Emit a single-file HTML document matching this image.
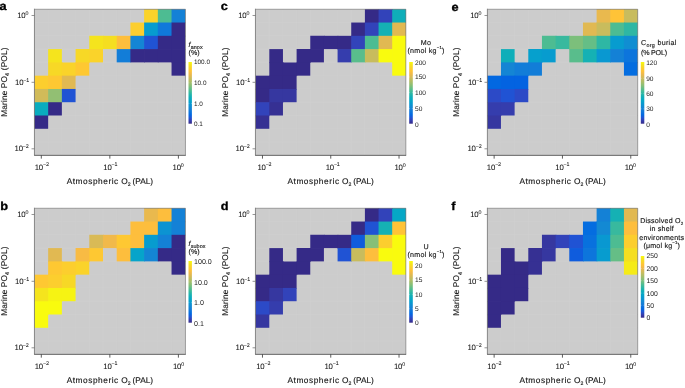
<!DOCTYPE html>
<html lang="en"><head><meta charset="utf-8"><title>Figure</title>
<style>html,body{margin:0;padding:0;background:#fff;}body{width:685px;height:388px;overflow:hidden;}svg{display:block;filter:blur(0.3px);}text{font-family:'Liberation Sans', Arial, Helvetica, sans-serif;fill:#151515;stroke:#151515;stroke-width:0.14px;text-rendering:geometricPrecision;}</style></head><body>
<svg width="685" height="388" viewBox="0 0 685 388">
<defs><linearGradient id="par" x1="0" y1="1" x2="0" y2="0">
<stop offset="0.0000" stop-color="#352a87"/>
<stop offset="0.0476" stop-color="#353dad"/>
<stop offset="0.0952" stop-color="#2053d4"/>
<stop offset="0.1429" stop-color="#0268e1"/>
<stop offset="0.1905" stop-color="#0d75dc"/>
<stop offset="0.2381" stop-color="#1481d6"/>
<stop offset="0.2857" stop-color="#108ed2"/>
<stop offset="0.3333" stop-color="#079ccf"/>
<stop offset="0.3810" stop-color="#06a7c6"/>
<stop offset="0.4286" stop-color="#0faeb9"/>
<stop offset="0.4762" stop-color="#25b5a9"/>
<stop offset="0.5238" stop-color="#42bb98"/>
<stop offset="0.5714" stop-color="#65be86"/>
<stop offset="0.6190" stop-color="#87bf77"/>
<stop offset="0.6667" stop-color="#a5be6b"/>
<stop offset="0.7143" stop-color="#c0bc60"/>
<stop offset="0.7619" stop-color="#d9ba56"/>
<stop offset="0.8095" stop-color="#f1b94a"/>
<stop offset="0.8571" stop-color="#ffc337"/>
<stop offset="0.9048" stop-color="#fad32a"/>
<stop offset="0.9524" stop-color="#f5e41d"/>
<stop offset="1.0000" stop-color="#f9fb0e"/>
</linearGradient></defs>
<rect x="0" y="0" width="685" height="388" fill="#ffffff"/>
<g id="panel-a">
<rect x="34.45" y="9.25" width="151.00" height="146.10" fill="#cccccc"/>
<path d="M48.16 9.25V155.35M34.45 22.53H185.45M61.87 9.25V155.35M34.45 35.81H185.45M75.58 9.25V155.35M34.45 49.10H185.45M89.29 9.25V155.35M34.45 62.38H185.45M103.00 9.25V155.35M34.45 75.66H185.45M116.70 9.25V155.35M34.45 88.94H185.45M130.41 9.25V155.35M34.45 102.22H185.45M144.12 9.25V155.35M34.45 115.50H185.45M157.83 9.25V155.35M34.45 128.79H185.45M171.54 9.25V155.35M34.45 142.07H185.45" fill="none" stroke="#d1d1d1" stroke-width="0.5"/>
<path d="M144.12 9.25H158.53V23.23H144.12Z" fill="#fad32a"/>
<path d="M157.83 9.25H172.24V23.23H157.83Z" fill="#4dbc92"/>
<path d="M171.54 9.25H185.25V23.23H171.54Z" fill="#1481d6"/>
<path d="M130.41 22.53H144.82V36.51H130.41Z" fill="#fcce2e"/>
<path d="M144.12 22.53H158.53V36.51H144.12Z" fill="#079ccf"/>
<path d="M157.83 22.53H172.24V36.51H157.83Z" fill="#1079da"/>
<path d="M171.54 22.53H185.25V36.51H171.54Z" fill="#352a87"/>
<path d="M89.29 35.81H103.70V49.10H103.00V49.80H89.29Z" fill="#f5e41d"/>
<path d="M103.00 35.81H117.40V49.10H103.00Z" fill="#f5de21"/>
<path d="M116.70 35.81H131.11V49.80H116.70Z" fill="#fdbe3d"/>
<path d="M130.41 35.81H144.82V49.80H130.41Z" fill="#1485d4"/>
<path d="M144.12 35.81H158.53V49.80H144.12Z" fill="#2053d4"/>
<path d="M157.83 35.81H172.24V49.80H157.83Z" fill="#352a87"/>
<path d="M171.54 35.81H185.25V49.80H171.54Z" fill="#352a87"/>
<path d="M48.16 49.10H61.87V63.08H48.16Z" fill="#f5e41d"/>
<path d="M75.58 49.10H89.99V62.38H89.29V63.08H75.58Z" fill="#f7d826"/>
<path d="M89.29 49.10H103.00V62.38H89.29Z" fill="#fad32a"/>
<path d="M116.70 49.10H131.11V62.38H116.70Z" fill="#127dd8"/>
<path d="M130.41 49.10H144.82V62.38H130.41Z" fill="#352a87"/>
<path d="M144.12 49.10H158.53V62.38H144.12Z" fill="#352a87"/>
<path d="M157.83 49.10H172.24V62.38H157.83Z" fill="#352a87"/>
<path d="M171.54 49.10H185.25V63.08H171.54Z" fill="#352a87"/>
<path d="M48.16 62.38H62.57V76.36H48.16Z" fill="#f7d826"/>
<path d="M61.87 62.38H76.28V75.66H75.58V76.36H61.87Z" fill="#fad32a"/>
<path d="M75.58 62.38H89.29V75.66H75.58Z" fill="#fec832"/>
<path d="M171.54 62.38H185.25V75.66H171.54Z" fill="#352a87"/>
<path d="M34.45 75.66H48.86V89.64H34.45Z" fill="#fcce2e"/>
<path d="M48.16 75.66H62.57V89.64H48.16Z" fill="#fec832"/>
<path d="M61.87 75.66H75.58V89.64H61.87Z" fill="#e1b952"/>
<path d="M34.45 88.94H48.86V102.92H34.45Z" fill="#d1bb59"/>
<path d="M48.16 88.94H62.57V102.22H61.87V102.92H48.16Z" fill="#92bf73"/>
<path d="M61.87 88.94H75.58V102.22H61.87Z" fill="#2053d4"/>
<path d="M34.45 102.22H48.86V115.50H48.16V116.20H34.45Z" fill="#0aacbe"/>
<path d="M48.16 102.22H61.87V115.50H48.16Z" fill="#352a87"/>
<path d="M34.45 115.50H48.16V128.79H34.45Z" fill="#352a87"/>
<path d="M34.45 9.25H185.45V155.35" fill="none" stroke="#606060" stroke-width="0.55"/>
<path d="M34.45 155.35V8.75" fill="none" stroke="#707070" stroke-width="0.8"/>
<path d="M34.15 155.35H185.75" fill="none" stroke="#4d4d4d" stroke-width="0.85"/>
<line x1="41.30" y1="155.35" x2="41.30" y2="158.65" stroke="#333" stroke-width="0.8"/>
<text x="41.70" y="169.65" font-size="7.8" letter-spacing="-0.2" style="stroke-width:0.05px" text-anchor="middle">10<tspan font-size="5.30" dy="-3.5">−2</tspan><tspan dy="3.5"></tspan></text>
<line x1="109.85" y1="155.35" x2="109.85" y2="158.65" stroke="#333" stroke-width="0.8"/>
<text x="110.25" y="169.65" font-size="7.8" letter-spacing="-0.2" style="stroke-width:0.05px" text-anchor="middle">10<tspan font-size="5.30" dy="-3.5">−1</tspan><tspan dy="3.5"></tspan></text>
<line x1="178.40" y1="155.35" x2="178.40" y2="158.65" stroke="#333" stroke-width="0.8"/>
<text x="178.10" y="169.65" font-size="7.8" letter-spacing="-0.2" style="stroke-width:0.05px" text-anchor="middle">10<tspan font-size="5.30" dy="-2.7">0</tspan><tspan dy="2.7"></tspan></text>
<line x1="31.55" y1="15.49" x2="34.45" y2="15.49" stroke="#666" stroke-width="0.7"/>
<text x="28.25" y="17.89" font-size="7.8" letter-spacing="-0.2" style="stroke-width:0.05px" text-anchor="end">10<tspan font-size="5.30" dy="-2.7">0</tspan><tspan dy="2.7"></tspan></text>
<line x1="31.55" y1="82.30" x2="34.45" y2="82.30" stroke="#666" stroke-width="0.7"/>
<text x="28.95" y="85.10" font-size="7.8" letter-spacing="-0.2" style="stroke-width:0.05px" text-anchor="end">10<tspan font-size="5.30" dy="-3.5">−1</tspan><tspan dy="3.5"></tspan></text>
<line x1="31.55" y1="148.81" x2="34.45" y2="148.81" stroke="#666" stroke-width="0.7"/>
<text x="28.45" y="151.11" font-size="7.8" letter-spacing="-0.2" style="stroke-width:0.05px" text-anchor="end">10<tspan font-size="5.30" dy="-3.5">−2</tspan><tspan dy="3.5"></tspan></text>
<text x="66.65" y="183.95" font-size="8.3" text-anchor="start"><tspan letter-spacing="0.55">Atmospheric</tspan><tspan letter-spacing="0.1"> O</tspan><tspan font-size="5.15" dy="2.3">2</tspan><tspan dy="-2.3"><tspan letter-spacing="0" dx="-0.5"> (PAL)</tspan></tspan></text>
<text transform="translate(7.10,82.10) rotate(-90)" font-size="8.3" letter-spacing="0.14" text-anchor="middle">Marine PO<tspan font-size="5.48" dy="2.3">4</tspan><tspan dy="-2.3"> (POL)</tspan></text>
<text transform="translate(-0.6,10.3) scale(1.1,1)" font-size="11.6" font-weight="bold" style="fill:#000;stroke:#000;stroke-width:0.3px">a</text>
<rect x="188.5" y="62.0" width="3.4" height="61.70" fill="url(#par)"/>
<path d="M188.5 82.8h0.9M191.9 82.8h-0.9" stroke="#ffffff" stroke-opacity="0.55" stroke-width="0.5" fill="none"/>
<path d="M188.5 103.5h0.9M191.9 103.5h-0.9" stroke="#ffffff" stroke-opacity="0.55" stroke-width="0.5" fill="none"/>
<text x="194.0" y="64.37" font-size="6.4" style="stroke:none;fill:#222">100.0</text>
<text x="194.0" y="85.07" font-size="6.4" style="stroke:none;fill:#222">10.0</text>
<text x="194.0" y="105.77" font-size="6.4" style="stroke:none;fill:#222">1.0</text>
<text x="194.0" y="126.17" font-size="6.4" style="stroke:none;fill:#222">0.1</text>
<text x="188.6" y="46.9" font-size="7.1" letter-spacing="0.1" text-anchor="start"><tspan font-style="italic">f</tspan><tspan font-size="5.40" dy="1.8">anox</tspan><tspan dy="-1.8"></tspan></text>
<text x="188.6" y="55.0" font-size="7.1" letter-spacing="0" text-anchor="start">(%)</text>
</g>
<g id="panel-b">
<rect x="34.45" y="208.25" width="151.00" height="146.10" fill="#cccccc"/>
<path d="M48.16 208.25V354.35M34.45 221.53H185.45M61.87 208.25V354.35M34.45 234.81H185.45M75.58 208.25V354.35M34.45 248.10H185.45M89.29 208.25V354.35M34.45 261.38H185.45M103.00 208.25V354.35M34.45 274.66H185.45M116.70 208.25V354.35M34.45 287.94H185.45M130.41 208.25V354.35M34.45 301.22H185.45M144.12 208.25V354.35M34.45 314.50H185.45M157.83 208.25V354.35M34.45 327.79H185.45M171.54 208.25V354.35M34.45 341.07H185.45" fill="none" stroke="#d1d1d1" stroke-width="0.5"/>
<path d="M144.12 208.25H158.53V222.23H144.12Z" fill="#e9b94e"/>
<path d="M157.83 208.25H172.24V222.23H157.83Z" fill="#fdbe3d"/>
<path d="M171.54 208.25H185.25V222.23H171.54Z" fill="#1481d6"/>
<path d="M130.41 221.53H144.82V235.51H130.41Z" fill="#fdbe3d"/>
<path d="M144.12 221.53H158.53V235.51H144.12Z" fill="#fdbe3d"/>
<path d="M157.83 221.53H172.24V235.51H157.83Z" fill="#0c93d2"/>
<path d="M171.54 221.53H185.25V235.51H171.54Z" fill="#1481d6"/>
<path d="M89.29 234.81H103.70V248.10H103.00V248.80H89.29Z" fill="#d9ba56"/>
<path d="M103.00 234.81H117.40V248.10H103.00Z" fill="#f1b94a"/>
<path d="M116.70 234.81H131.11V248.80H116.70Z" fill="#fec832"/>
<path d="M130.41 234.81H144.82V248.80H130.41Z" fill="#fdbe3d"/>
<path d="M144.12 234.81H158.53V248.80H144.12Z" fill="#079ccf"/>
<path d="M157.83 234.81H172.24V248.80H157.83Z" fill="#1481d6"/>
<path d="M171.54 234.81H185.25V248.80H171.54Z" fill="#352a87"/>
<path d="M48.16 248.10H61.87V262.08H48.16Z" fill="#e1b952"/>
<path d="M75.58 248.10H89.99V261.38H89.29V262.08H75.58Z" fill="#f8bb44"/>
<path d="M89.29 248.10H103.00V261.38H89.29Z" fill="#fec832"/>
<path d="M116.70 248.10H131.11V261.38H116.70Z" fill="#fdbe3d"/>
<path d="M130.41 248.10H144.82V261.38H130.41Z" fill="#06a4ca"/>
<path d="M144.12 248.10H158.53V261.38H144.12Z" fill="#1485d4"/>
<path d="M157.83 248.10H172.24V261.38H157.83Z" fill="#352a87"/>
<path d="M171.54 248.10H185.25V262.08H171.54Z" fill="#352a87"/>
<path d="M48.16 261.38H62.57V275.36H48.16Z" fill="#fec832"/>
<path d="M61.87 261.38H76.28V274.66H75.58V275.36H61.87Z" fill="#fcce2e"/>
<path d="M75.58 261.38H89.29V274.66H75.58Z" fill="#fad32a"/>
<path d="M171.54 261.38H185.25V274.66H171.54Z" fill="#352a87"/>
<path d="M34.45 274.66H48.86V288.64H34.45Z" fill="#fec832"/>
<path d="M48.16 274.66H62.57V288.64H48.16Z" fill="#fcce2e"/>
<path d="M61.87 274.66H75.58V288.64H61.87Z" fill="#f7d826"/>
<path d="M34.45 287.94H48.86V301.92H34.45Z" fill="#f5e41d"/>
<path d="M48.16 287.94H62.57V301.22H61.87V301.92H48.16Z" fill="#f6f313"/>
<path d="M61.87 287.94H75.58V301.22H61.87Z" fill="#f6f313"/>
<path d="M34.45 301.22H48.86V314.50H48.16V315.20H34.45Z" fill="#f9fb0e"/>
<path d="M48.16 301.22H61.87V314.50H48.16Z" fill="#f9fb0e"/>
<path d="M34.45 314.50H48.16V327.79H34.45Z" fill="#f9fb0e"/>
<path d="M34.45 208.25H185.45V354.35" fill="none" stroke="#606060" stroke-width="0.55"/>
<path d="M34.45 354.35V207.75" fill="none" stroke="#707070" stroke-width="0.8"/>
<path d="M34.15 354.35H185.75" fill="none" stroke="#4d4d4d" stroke-width="0.85"/>
<line x1="41.30" y1="354.35" x2="41.30" y2="357.65" stroke="#333" stroke-width="0.8"/>
<text x="41.70" y="368.65" font-size="7.8" letter-spacing="-0.2" style="stroke-width:0.05px" text-anchor="middle">10<tspan font-size="5.30" dy="-3.5">−2</tspan><tspan dy="3.5"></tspan></text>
<line x1="109.85" y1="354.35" x2="109.85" y2="357.65" stroke="#333" stroke-width="0.8"/>
<text x="110.25" y="368.65" font-size="7.8" letter-spacing="-0.2" style="stroke-width:0.05px" text-anchor="middle">10<tspan font-size="5.30" dy="-3.5">−1</tspan><tspan dy="3.5"></tspan></text>
<line x1="178.40" y1="354.35" x2="178.40" y2="357.65" stroke="#333" stroke-width="0.8"/>
<text x="178.50" y="368.65" font-size="7.8" letter-spacing="-0.2" style="stroke-width:0.05px" text-anchor="middle">10<tspan font-size="5.30" dy="-2.7">0</tspan><tspan dy="2.7"></tspan></text>
<line x1="31.55" y1="214.49" x2="34.45" y2="214.49" stroke="#666" stroke-width="0.7"/>
<text x="28.25" y="216.89" font-size="7.8" letter-spacing="-0.2" style="stroke-width:0.05px" text-anchor="end">10<tspan font-size="5.30" dy="-2.7">0</tspan><tspan dy="2.7"></tspan></text>
<line x1="31.55" y1="281.30" x2="34.45" y2="281.30" stroke="#666" stroke-width="0.7"/>
<text x="28.95" y="284.10" font-size="7.8" letter-spacing="-0.2" style="stroke-width:0.05px" text-anchor="end">10<tspan font-size="5.30" dy="-3.5">−1</tspan><tspan dy="3.5"></tspan></text>
<line x1="31.55" y1="347.81" x2="34.45" y2="347.81" stroke="#666" stroke-width="0.7"/>
<text x="28.45" y="350.11" font-size="7.8" letter-spacing="-0.2" style="stroke-width:0.05px" text-anchor="end">10<tspan font-size="5.30" dy="-3.5">−2</tspan><tspan dy="3.5"></tspan></text>
<text x="66.65" y="382.95" font-size="8.3" text-anchor="start"><tspan letter-spacing="0.55">Atmospheric</tspan><tspan letter-spacing="0.1"> O</tspan><tspan font-size="5.15" dy="2.3">2</tspan><tspan dy="-2.3"><tspan letter-spacing="0" dx="-0.5"> (PAL)</tspan></tspan></text>
<text transform="translate(7.10,281.10) rotate(-90)" font-size="8.3" letter-spacing="0.14" text-anchor="middle">Marine PO<tspan font-size="5.48" dy="2.3">4</tspan><tspan dy="-2.3"> (POL)</tspan></text>
<text transform="translate(0.2,209.6) scale(1.1,1)" font-size="11.6" font-weight="bold" style="fill:#000;stroke:#000;stroke-width:0.3px">b</text>
<rect x="188.5" y="261.0" width="3.4" height="61.70" fill="url(#par)"/>
<path d="M188.5 282.0h0.9M191.9 282.0h-0.9" stroke="#ffffff" stroke-opacity="0.55" stroke-width="0.5" fill="none"/>
<path d="M188.5 302.6h0.9M191.9 302.6h-0.9" stroke="#ffffff" stroke-opacity="0.55" stroke-width="0.5" fill="none"/>
<text x="194.0" y="263.92" font-size="7.1" style="stroke:none;fill:#222">100.0</text>
<text x="194.0" y="284.52" font-size="7.1" style="stroke:none;fill:#222">10.0</text>
<text x="194.0" y="305.12" font-size="7.1" style="stroke:none;fill:#222">1.0</text>
<text x="194.0" y="325.62" font-size="7.1" style="stroke:none;fill:#222">0.1</text>
<text x="188.6" y="245.9" font-size="7.1" letter-spacing="0.1" text-anchor="start"><tspan font-style="italic">f</tspan><tspan font-size="5.40" dy="1.8">subox</tspan><tspan dy="-1.8"></tspan></text>
<text x="188.6" y="254.0" font-size="7.1" letter-spacing="0" text-anchor="start">(%)</text>
</g>
<g id="panel-c">
<rect x="255.45" y="9.25" width="150.40" height="146.10" fill="#cccccc"/>
<path d="M269.30 9.25V155.35M255.45 22.53H405.85M282.96 9.25V155.35M255.45 35.81H405.85M296.61 9.25V155.35M255.45 49.10H405.85M310.27 9.25V155.35M255.45 62.38H405.85M323.92 9.25V155.35M255.45 75.66H405.85M337.58 9.25V155.35M255.45 88.94H405.85M351.23 9.25V155.35M255.45 102.22H405.85M364.89 9.25V155.35M255.45 115.50H405.85M378.54 9.25V155.35M255.45 128.79H405.85M392.20 9.25V155.35M255.45 142.07H405.85" fill="none" stroke="#d1d1d1" stroke-width="0.5"/>
<path d="M364.89 9.25H379.24V23.23H364.89Z" fill="#352a87"/>
<path d="M378.54 9.25H392.90V23.23H378.54Z" fill="#3243ba"/>
<path d="M392.20 9.25H405.85V23.23H392.20Z" fill="#0faeb9"/>
<path d="M351.23 22.53H365.59V36.51H351.23Z" fill="#352a87"/>
<path d="M364.89 22.53H379.24V36.51H364.89Z" fill="#3243ba"/>
<path d="M378.54 22.53H392.90V36.51H378.54Z" fill="#15b1b4"/>
<path d="M392.20 22.53H405.85V36.51H392.20Z" fill="#e1b952"/>
<path d="M310.27 35.81H324.62V49.10H323.92V49.80H310.27Z" fill="#352a87"/>
<path d="M323.92 35.81H338.28V49.10H323.92Z" fill="#352a87"/>
<path d="M337.58 35.81H351.93V49.80H337.58Z" fill="#352a87"/>
<path d="M351.23 35.81H365.59V49.80H351.23Z" fill="#3243ba"/>
<path d="M364.89 35.81H379.24V49.80H364.89Z" fill="#4dbc92"/>
<path d="M378.54 35.81H392.90V49.80H378.54Z" fill="#e1b952"/>
<path d="M392.20 35.81H405.85V49.80H392.20Z" fill="#f9fb0e"/>
<path d="M269.30 49.10H282.96V63.08H269.30Z" fill="#352a87"/>
<path d="M296.61 49.10H310.97V62.38H310.27V63.08H296.61Z" fill="#352a87"/>
<path d="M310.27 49.10H323.92V62.38H310.27Z" fill="#352a87"/>
<path d="M337.58 49.10H351.93V62.38H337.58Z" fill="#353dad"/>
<path d="M351.23 49.10H365.59V62.38H351.23Z" fill="#59bd8c"/>
<path d="M364.89 49.10H379.24V62.38H364.89Z" fill="#c8bc5d"/>
<path d="M378.54 49.10H392.90V62.38H378.54Z" fill="#f9fb0e"/>
<path d="M392.20 49.10H405.85V63.08H392.20Z" fill="#f9fb0e"/>
<path d="M269.30 62.38H283.66V76.36H269.30Z" fill="#352a87"/>
<path d="M282.96 62.38H297.31V75.66H296.61V76.36H282.96Z" fill="#352a87"/>
<path d="M296.61 62.38H310.27V75.66H296.61Z" fill="#352a87"/>
<path d="M392.20 62.38H405.85V75.66H392.20Z" fill="#f9fb0e"/>
<path d="M255.65 75.66H270.00V89.64H255.65Z" fill="#352a87"/>
<path d="M269.30 75.66H283.66V89.64H269.30Z" fill="#352a87"/>
<path d="M282.96 75.66H296.61V89.64H282.96Z" fill="#352a87"/>
<path d="M255.65 88.94H270.00V102.92H255.65Z" fill="#352a87"/>
<path d="M269.30 88.94H283.66V102.22H282.96V102.92H269.30Z" fill="#3637a0"/>
<path d="M282.96 88.94H296.61V102.22H282.96Z" fill="#3637a0"/>
<path d="M255.65 102.22H270.00V115.50H269.30V116.20H255.65Z" fill="#3243ba"/>
<path d="M269.30 102.22H282.96V115.50H269.30Z" fill="#363093"/>
<path d="M255.65 115.50H269.30V128.79H255.65Z" fill="#363093"/>
<path d="M255.45 9.25H405.85V155.35" fill="none" stroke="#606060" stroke-width="0.55"/>
<path d="M255.45 155.35V8.75" fill="none" stroke="#707070" stroke-width="0.8"/>
<path d="M255.15 155.35H406.15" fill="none" stroke="#4d4d4d" stroke-width="0.85"/>
<line x1="262.48" y1="155.35" x2="262.48" y2="158.65" stroke="#333" stroke-width="0.8"/>
<text x="264.38" y="169.65" font-size="7.8" letter-spacing="-0.2" style="stroke-width:0.05px" text-anchor="middle">10<tspan font-size="5.30" dy="-3.5">−2</tspan><tspan dy="3.5"></tspan></text>
<line x1="330.75" y1="155.35" x2="330.75" y2="158.65" stroke="#333" stroke-width="0.8"/>
<text x="332.65" y="169.65" font-size="7.8" letter-spacing="-0.2" style="stroke-width:0.05px" text-anchor="middle">10<tspan font-size="5.30" dy="-3.5">−1</tspan><tspan dy="3.5"></tspan></text>
<line x1="399.02" y1="155.35" x2="399.02" y2="158.65" stroke="#333" stroke-width="0.8"/>
<text x="399.92" y="169.65" font-size="7.8" letter-spacing="-0.2" style="stroke-width:0.05px" text-anchor="middle">10<tspan font-size="5.30" dy="-2.7">0</tspan><tspan dy="2.7"></tspan></text>
<line x1="252.55" y1="15.49" x2="255.45" y2="15.49" stroke="#666" stroke-width="0.7"/>
<text x="249.25" y="17.89" font-size="7.8" letter-spacing="-0.2" style="stroke-width:0.05px" text-anchor="end">10<tspan font-size="5.30" dy="-2.7">0</tspan><tspan dy="2.7"></tspan></text>
<line x1="252.55" y1="82.30" x2="255.45" y2="82.30" stroke="#666" stroke-width="0.7"/>
<text x="249.95" y="85.10" font-size="7.8" letter-spacing="-0.2" style="stroke-width:0.05px" text-anchor="end">10<tspan font-size="5.30" dy="-3.5">−1</tspan><tspan dy="3.5"></tspan></text>
<line x1="252.55" y1="148.81" x2="255.45" y2="148.81" stroke="#666" stroke-width="0.7"/>
<text x="249.45" y="151.11" font-size="7.8" letter-spacing="-0.2" style="stroke-width:0.05px" text-anchor="end">10<tspan font-size="5.30" dy="-3.5">−2</tspan><tspan dy="3.5"></tspan></text>
<text x="287.45" y="183.95" font-size="8.3" text-anchor="start"><tspan letter-spacing="0.55">Atmospheric</tspan><tspan letter-spacing="0.1"> O</tspan><tspan font-size="5.15" dy="2.3">2</tspan><tspan dy="-2.3"><tspan letter-spacing="0" dx="-0.5"> (PAL)</tspan></tspan></text>
<text transform="translate(227.70,82.10) rotate(-90)" font-size="8.3" letter-spacing="0.14" text-anchor="middle">Marine PO<tspan font-size="5.48" dy="2.3">4</tspan><tspan dy="-2.3"> (POL)</tspan></text>
<text transform="translate(220.7,10.4) scale(1.1,1)" font-size="11.6" font-weight="bold" style="fill:#000;stroke:#000;stroke-width:0.3px">c</text>
<rect x="409.2" y="62.0" width="3.6" height="61.70" fill="url(#par)"/>
<path d="M409.2 77.0h0.9M412.8 77.0h-0.9" stroke="#ffffff" stroke-opacity="0.55" stroke-width="0.5" fill="none"/>
<path d="M409.2 92.6h0.9M412.8 92.6h-0.9" stroke="#ffffff" stroke-opacity="0.55" stroke-width="0.5" fill="none"/>
<path d="M409.2 108.5h0.9M412.8 108.5h-0.9" stroke="#ffffff" stroke-opacity="0.55" stroke-width="0.5" fill="none"/>
<text x="415.0" y="64.74" font-size="6.6" style="stroke:none;fill:#222">200</text>
<text x="415.0" y="79.34" font-size="6.6" style="stroke:none;fill:#222">150</text>
<text x="415.0" y="94.94" font-size="6.6" style="stroke:none;fill:#222">100</text>
<text x="415.0" y="110.84" font-size="6.6" style="stroke:none;fill:#222">50</text>
<text x="415.0" y="126.64" font-size="6.6" style="stroke:none;fill:#222">0</text>
<text x="426.0" y="44.9" font-size="7.1" letter-spacing="0.2" text-anchor="middle">Mo</text>
<text x="426.1" y="52.6" font-size="7.1" letter-spacing="0.25" text-anchor="middle">(nmol kg<tspan font-size="4.26" dy="-3.7">−1</tspan><tspan dy="3.7">)</tspan></text>
</g>
<g id="panel-d">
<rect x="255.45" y="208.25" width="150.40" height="146.10" fill="#cccccc"/>
<path d="M269.30 208.25V354.35M255.45 221.53H405.85M282.96 208.25V354.35M255.45 234.81H405.85M296.61 208.25V354.35M255.45 248.10H405.85M310.27 208.25V354.35M255.45 261.38H405.85M323.92 208.25V354.35M255.45 274.66H405.85M337.58 208.25V354.35M255.45 287.94H405.85M351.23 208.25V354.35M255.45 301.22H405.85M364.89 208.25V354.35M255.45 314.50H405.85M378.54 208.25V354.35M255.45 327.79H405.85M392.20 208.25V354.35M255.45 341.07H405.85" fill="none" stroke="#d1d1d1" stroke-width="0.5"/>
<path d="M364.89 208.25H379.24V222.23H364.89Z" fill="#352a87"/>
<path d="M378.54 208.25H392.90V222.23H378.54Z" fill="#3243ba"/>
<path d="M392.20 208.25H405.85V222.23H392.20Z" fill="#06a7c6"/>
<path d="M351.23 221.53H365.59V235.51H351.23Z" fill="#352a87"/>
<path d="M364.89 221.53H379.24V235.51H364.89Z" fill="#2053d4"/>
<path d="M378.54 221.53H392.90V235.51H378.54Z" fill="#15b1b4"/>
<path d="M392.20 221.53H405.85V235.51H392.20Z" fill="#ffc337"/>
<path d="M310.27 234.81H324.62V248.10H323.92V248.80H310.27Z" fill="#352a87"/>
<path d="M323.92 234.81H338.28V248.10H323.92Z" fill="#352a87"/>
<path d="M337.58 234.81H351.93V248.80H337.58Z" fill="#352a87"/>
<path d="M351.23 234.81H365.59V248.80H351.23Z" fill="#0f5cdd"/>
<path d="M364.89 234.81H379.24V248.80H364.89Z" fill="#87bf77"/>
<path d="M378.54 234.81H392.90V248.80H378.54Z" fill="#fcce2e"/>
<path d="M392.20 234.81H405.85V248.80H392.20Z" fill="#f9fb0e"/>
<path d="M269.30 248.10H282.96V262.08H269.30Z" fill="#352a87"/>
<path d="M296.61 248.10H310.97V261.38H310.27V262.08H296.61Z" fill="#352a87"/>
<path d="M310.27 248.10H323.92V261.38H310.27Z" fill="#352a87"/>
<path d="M337.58 248.10H351.93V261.38H337.58Z" fill="#2053d4"/>
<path d="M351.23 248.10H365.59V261.38H351.23Z" fill="#c8bc5d"/>
<path d="M364.89 248.10H379.24V261.38H364.89Z" fill="#fdbe3d"/>
<path d="M378.54 248.10H392.90V261.38H378.54Z" fill="#f9fb0e"/>
<path d="M392.20 248.10H405.85V262.08H392.20Z" fill="#f9fb0e"/>
<path d="M269.30 261.38H283.66V275.36H269.30Z" fill="#352a87"/>
<path d="M282.96 261.38H297.31V274.66H296.61V275.36H282.96Z" fill="#352a87"/>
<path d="M296.61 261.38H310.27V274.66H296.61Z" fill="#352a87"/>
<path d="M392.20 261.38H405.85V274.66H392.20Z" fill="#f9fb0e"/>
<path d="M255.65 274.66H270.00V288.64H255.65Z" fill="#352a87"/>
<path d="M269.30 274.66H283.66V288.64H269.30Z" fill="#352a87"/>
<path d="M282.96 274.66H296.61V288.64H282.96Z" fill="#352a87"/>
<path d="M255.65 287.94H270.00V301.92H255.65Z" fill="#352a87"/>
<path d="M269.30 287.94H283.66V301.22H282.96V301.92H269.30Z" fill="#3637a0"/>
<path d="M282.96 287.94H296.61V301.22H282.96Z" fill="#3243ba"/>
<path d="M255.65 301.22H270.00V314.50H269.30V315.20H255.65Z" fill="#2c4ac7"/>
<path d="M269.30 301.22H282.96V314.50H269.30Z" fill="#353dad"/>
<path d="M255.65 314.50H269.30V327.79H255.65Z" fill="#3637a0"/>
<path d="M255.45 208.25H405.85V354.35" fill="none" stroke="#606060" stroke-width="0.55"/>
<path d="M255.45 354.35V207.75" fill="none" stroke="#707070" stroke-width="0.8"/>
<path d="M255.15 354.35H406.15" fill="none" stroke="#4d4d4d" stroke-width="0.85"/>
<line x1="262.48" y1="354.35" x2="262.48" y2="357.65" stroke="#333" stroke-width="0.8"/>
<text x="263.18" y="368.65" font-size="7.8" letter-spacing="-0.2" style="stroke-width:0.05px" text-anchor="middle">10<tspan font-size="5.30" dy="-3.5">−2</tspan><tspan dy="3.5"></tspan></text>
<line x1="330.75" y1="354.35" x2="330.75" y2="357.65" stroke="#333" stroke-width="0.8"/>
<text x="331.45" y="368.65" font-size="7.8" letter-spacing="-0.2" style="stroke-width:0.05px" text-anchor="middle">10<tspan font-size="5.30" dy="-3.5">−1</tspan><tspan dy="3.5"></tspan></text>
<line x1="399.02" y1="354.35" x2="399.02" y2="357.65" stroke="#333" stroke-width="0.8"/>
<text x="399.42" y="368.65" font-size="7.8" letter-spacing="-0.2" style="stroke-width:0.05px" text-anchor="middle">10<tspan font-size="5.30" dy="-2.7">0</tspan><tspan dy="2.7"></tspan></text>
<line x1="252.55" y1="214.49" x2="255.45" y2="214.49" stroke="#666" stroke-width="0.7"/>
<text x="249.25" y="216.89" font-size="7.8" letter-spacing="-0.2" style="stroke-width:0.05px" text-anchor="end">10<tspan font-size="5.30" dy="-2.7">0</tspan><tspan dy="2.7"></tspan></text>
<line x1="252.55" y1="281.30" x2="255.45" y2="281.30" stroke="#666" stroke-width="0.7"/>
<text x="249.95" y="284.10" font-size="7.8" letter-spacing="-0.2" style="stroke-width:0.05px" text-anchor="end">10<tspan font-size="5.30" dy="-3.5">−1</tspan><tspan dy="3.5"></tspan></text>
<line x1="252.55" y1="347.81" x2="255.45" y2="347.81" stroke="#666" stroke-width="0.7"/>
<text x="249.45" y="350.11" font-size="7.8" letter-spacing="-0.2" style="stroke-width:0.05px" text-anchor="end">10<tspan font-size="5.30" dy="-3.5">−2</tspan><tspan dy="3.5"></tspan></text>
<text x="287.45" y="382.95" font-size="8.3" text-anchor="start"><tspan letter-spacing="0.55">Atmospheric</tspan><tspan letter-spacing="0.1"> O</tspan><tspan font-size="5.15" dy="2.3">2</tspan><tspan dy="-2.3"><tspan letter-spacing="0" dx="-0.5"> (PAL)</tspan></tspan></text>
<text transform="translate(227.70,281.10) rotate(-90)" font-size="8.3" letter-spacing="0.14" text-anchor="middle">Marine PO<tspan font-size="5.48" dy="2.3">4</tspan><tspan dy="-2.3"> (POL)</tspan></text>
<text transform="translate(220.8,209.6) scale(1.1,1)" font-size="11.6" font-weight="bold" style="fill:#000;stroke:#000;stroke-width:0.3px">d</text>
<rect x="409.2" y="261.0" width="3.6" height="61.70" fill="url(#par)"/>
<path d="M409.2 280.0h0.9M412.8 280.0h-0.9" stroke="#ffffff" stroke-opacity="0.55" stroke-width="0.5" fill="none"/>
<path d="M409.2 294.5h0.9M412.8 294.5h-0.9" stroke="#ffffff" stroke-opacity="0.55" stroke-width="0.5" fill="none"/>
<path d="M409.2 308.8h0.9M412.8 308.8h-0.9" stroke="#ffffff" stroke-opacity="0.55" stroke-width="0.5" fill="none"/>
<text x="415.0" y="267.94" font-size="6.6" style="stroke:none;fill:#222">20</text>
<text x="415.0" y="282.34" font-size="6.6" style="stroke:none;fill:#222">15</text>
<text x="415.0" y="296.84" font-size="6.6" style="stroke:none;fill:#222">10</text>
<text x="415.0" y="311.14" font-size="6.6" style="stroke:none;fill:#222">5</text>
<text x="415.0" y="325.44" font-size="6.6" style="stroke:none;fill:#222">0</text>
<text x="426.0" y="248.9" font-size="7.1" letter-spacing="0" text-anchor="middle">U</text>
<text x="426.1" y="256.6" font-size="7.1" letter-spacing="0.25" text-anchor="middle">(nmol kg<tspan font-size="4.26" dy="-3.7">−1</tspan><tspan dy="3.7">)</tspan></text>
</g>
<g id="panel-e">
<rect x="487.40" y="9.25" width="150.30" height="146.10" fill="#cccccc"/>
<path d="M500.96 9.25V155.35M487.40 22.53H637.70M514.63 9.25V155.35M487.40 35.81H637.70M528.29 9.25V155.35M487.40 49.10H637.70M541.95 9.25V155.35M487.40 62.38H637.70M555.62 9.25V155.35M487.40 75.66H637.70M569.28 9.25V155.35M487.40 88.94H637.70M582.95 9.25V155.35M487.40 102.22H637.70M596.61 9.25V155.35M487.40 115.50H637.70M610.27 9.25V155.35M487.40 128.79H637.70M623.94 9.25V155.35M487.40 142.07H637.70" fill="none" stroke="#d1d1d1" stroke-width="0.5"/>
<path d="M596.61 9.25H610.97V23.23H596.61Z" fill="#e9b94e"/>
<path d="M610.27 9.25H624.64V23.23H610.27Z" fill="#ffc337"/>
<path d="M623.94 9.25H637.60V23.23H623.94Z" fill="#c8bc5d"/>
<path d="M582.95 22.53H597.31V36.51H582.95Z" fill="#e1b952"/>
<path d="M596.61 22.53H610.97V36.51H596.61Z" fill="#c8bc5d"/>
<path d="M610.27 22.53H624.64V36.51H610.27Z" fill="#4dbc92"/>
<path d="M623.94 22.53H637.60V36.51H623.94Z" fill="#2eb7a4"/>
<path d="M541.95 35.81H556.32V49.10H555.62V49.80H541.95Z" fill="#4dbc92"/>
<path d="M555.62 35.81H569.98V49.10H555.62Z" fill="#38b99e"/>
<path d="M569.28 35.81H583.65V49.80H569.28Z" fill="#7cbf7b"/>
<path d="M582.95 35.81H597.31V49.80H582.95Z" fill="#65be86"/>
<path d="M596.61 35.81H610.97V49.80H596.61Z" fill="#2eb7a4"/>
<path d="M610.27 35.81H624.64V49.80H610.27Z" fill="#079ccf"/>
<path d="M623.94 35.81H637.60V49.80H623.94Z" fill="#108ed2"/>
<path d="M500.96 49.10H514.63V63.08H500.96Z" fill="#0faeb9"/>
<path d="M528.29 49.10H542.65V62.38H541.95V63.08H528.29Z" fill="#06a0cd"/>
<path d="M541.95 49.10H555.62V62.38H541.95Z" fill="#079ccf"/>
<path d="M569.28 49.10H583.65V62.38H569.28Z" fill="#59bd8c"/>
<path d="M582.95 49.10H597.31V62.38H582.95Z" fill="#15b1b4"/>
<path d="M596.61 49.10H610.97V62.38H596.61Z" fill="#0998d1"/>
<path d="M610.27 49.10H624.64V62.38H610.27Z" fill="#1481d6"/>
<path d="M623.94 49.10H637.60V63.08H623.94Z" fill="#0d75dc"/>
<path d="M500.96 62.38H515.33V76.36H500.96Z" fill="#1485d4"/>
<path d="M514.63 62.38H528.99V75.66H528.29V76.36H514.63Z" fill="#127dd8"/>
<path d="M528.29 62.38H541.95V75.66H528.29Z" fill="#127dd8"/>
<path d="M623.94 62.38H637.60V75.66H623.94Z" fill="#046de0"/>
<path d="M487.30 75.66H501.66V89.64H487.30Z" fill="#0268e1"/>
<path d="M500.96 75.66H515.33V89.64H500.96Z" fill="#0363e1"/>
<path d="M514.63 75.66H528.29V89.64H514.63Z" fill="#0363e1"/>
<path d="M487.30 88.94H501.66V102.92H487.30Z" fill="#2c4ac7"/>
<path d="M500.96 88.94H515.33V102.22H514.63V102.92H500.96Z" fill="#2053d4"/>
<path d="M514.63 88.94H528.29V102.22H514.63Z" fill="#2c4ac7"/>
<path d="M487.30 102.22H501.66V115.50H500.96V116.20H487.30Z" fill="#353dad"/>
<path d="M500.96 102.22H514.63V115.50H500.96Z" fill="#353dad"/>
<path d="M487.30 115.50H500.96V128.79H487.30Z" fill="#3637a0"/>
<path d="M487.40 9.25H637.70V155.35" fill="none" stroke="#606060" stroke-width="0.55"/>
<path d="M487.40 155.35V8.75" fill="none" stroke="#707070" stroke-width="0.8"/>
<path d="M487.10 155.35H638.00" fill="none" stroke="#4d4d4d" stroke-width="0.85"/>
<line x1="494.13" y1="155.35" x2="494.13" y2="158.65" stroke="#333" stroke-width="0.8"/>
<text x="493.83" y="169.65" font-size="7.8" letter-spacing="-0.2" style="stroke-width:0.05px" text-anchor="middle">10<tspan font-size="5.30" dy="-3.5">−2</tspan><tspan dy="3.5"></tspan></text>
<line x1="562.45" y1="155.35" x2="562.45" y2="158.65" stroke="#333" stroke-width="0.8"/>
<text x="562.25" y="169.65" font-size="7.8" letter-spacing="-0.2" style="stroke-width:0.05px" text-anchor="middle">10<tspan font-size="5.30" dy="-3.5">−1</tspan><tspan dy="3.5"></tspan></text>
<line x1="630.77" y1="155.35" x2="630.77" y2="158.65" stroke="#333" stroke-width="0.8"/>
<text x="630.17" y="169.65" font-size="7.8" letter-spacing="-0.2" style="stroke-width:0.05px" text-anchor="middle">10<tspan font-size="5.30" dy="-2.7">0</tspan><tspan dy="2.7"></tspan></text>
<line x1="484.50" y1="15.49" x2="487.40" y2="15.49" stroke="#666" stroke-width="0.7"/>
<text x="481.20" y="17.89" font-size="7.8" letter-spacing="-0.2" style="stroke-width:0.05px" text-anchor="end">10<tspan font-size="5.30" dy="-2.7">0</tspan><tspan dy="2.7"></tspan></text>
<line x1="484.50" y1="82.30" x2="487.40" y2="82.30" stroke="#666" stroke-width="0.7"/>
<text x="481.90" y="85.10" font-size="7.8" letter-spacing="-0.2" style="stroke-width:0.05px" text-anchor="end">10<tspan font-size="5.30" dy="-3.5">−1</tspan><tspan dy="3.5"></tspan></text>
<line x1="484.50" y1="148.81" x2="487.40" y2="148.81" stroke="#666" stroke-width="0.7"/>
<text x="481.40" y="151.11" font-size="7.8" letter-spacing="-0.2" style="stroke-width:0.05px" text-anchor="end">10<tspan font-size="5.30" dy="-3.5">−2</tspan><tspan dy="3.5"></tspan></text>
<text x="519.40" y="183.95" font-size="8.3" text-anchor="start"><tspan letter-spacing="0.55">Atmospheric</tspan><tspan letter-spacing="0.1"> O</tspan><tspan font-size="5.15" dy="2.3">2</tspan><tspan dy="-2.3"><tspan letter-spacing="0" dx="-0.5"> (PAL)</tspan></tspan></text>
<text transform="translate(459.30,82.10) rotate(-90)" font-size="8.3" letter-spacing="0.14" text-anchor="middle">Marine PO<tspan font-size="5.48" dy="2.3">4</tspan><tspan dy="-2.3"> (POL)</tspan></text>
<text transform="translate(451.4,10.5) scale(1.1,1)" font-size="11.6" font-weight="bold" style="fill:#000;stroke:#000;stroke-width:0.3px">e</text>
<rect x="640.8" y="62.0" width="3.5" height="61.70" fill="url(#par)"/>
<path d="M640.8 78.3h0.9M644.3 78.3h-0.9" stroke="#ffffff" stroke-opacity="0.55" stroke-width="0.5" fill="none"/>
<path d="M640.8 93.7h0.9M644.3 93.7h-0.9" stroke="#ffffff" stroke-opacity="0.55" stroke-width="0.5" fill="none"/>
<path d="M640.8 108.9h0.9M644.3 108.9h-0.9" stroke="#ffffff" stroke-opacity="0.55" stroke-width="0.5" fill="none"/>
<text x="646.2" y="65.24" font-size="6.6" style="stroke:none;fill:#222">120</text>
<text x="646.2" y="80.64" font-size="6.6" style="stroke:none;fill:#222">90</text>
<text x="646.2" y="96.04" font-size="6.6" style="stroke:none;fill:#222">60</text>
<text x="646.2" y="111.24" font-size="6.6" style="stroke:none;fill:#222">30</text>
<text x="646.2" y="126.64" font-size="6.6" style="stroke:none;fill:#222">0</text>
<text x="641.0" y="44.9" font-size="7.1" letter-spacing="0.3" text-anchor="start">C<tspan font-size="5.40" dy="1.8">org</tspan><tspan dy="-1.8"> burial</tspan></text>
<text x="641.0" y="54.5" font-size="7.1" letter-spacing="-0.2" text-anchor="start">(% POL)</text>
</g>
<g id="panel-f">
<rect x="487.40" y="208.25" width="150.30" height="146.10" fill="#cccccc"/>
<path d="M500.96 208.25V354.35M487.40 221.53H637.70M514.63 208.25V354.35M487.40 234.81H637.70M528.29 208.25V354.35M487.40 248.10H637.70M541.95 208.25V354.35M487.40 261.38H637.70M555.62 208.25V354.35M487.40 274.66H637.70M569.28 208.25V354.35M487.40 287.94H637.70M582.95 208.25V354.35M487.40 301.22H637.70M596.61 208.25V354.35M487.40 314.50H637.70M610.27 208.25V354.35M487.40 327.79H637.70M623.94 208.25V354.35M487.40 341.07H637.70" fill="none" stroke="#d1d1d1" stroke-width="0.5"/>
<path d="M596.61 208.25H610.97V222.23H596.61Z" fill="#1481d6"/>
<path d="M610.27 208.25H624.64V222.23H610.27Z" fill="#15b1b4"/>
<path d="M623.94 208.25H637.60V222.23H623.94Z" fill="#e1b952"/>
<path d="M582.95 221.53H597.31V235.51H582.95Z" fill="#046de0"/>
<path d="M596.61 221.53H610.97V235.51H596.61Z" fill="#1389d3"/>
<path d="M610.27 221.53H624.64V235.51H610.27Z" fill="#38b99e"/>
<path d="M623.94 221.53H637.60V235.51H623.94Z" fill="#fdbe3d"/>
<path d="M541.95 234.81H556.32V248.10H555.62V248.80H541.95Z" fill="#3637a0"/>
<path d="M555.62 234.81H569.98V248.10H555.62Z" fill="#3243ba"/>
<path d="M569.28 234.81H583.65V248.80H569.28Z" fill="#2053d4"/>
<path d="M582.95 234.81H597.31V248.80H582.95Z" fill="#0871de"/>
<path d="M596.61 234.81H610.97V248.80H596.61Z" fill="#0998d1"/>
<path d="M610.27 234.81H624.64V248.80H610.27Z" fill="#4dbc92"/>
<path d="M623.94 234.81H637.60V248.80H623.94Z" fill="#fcce2e"/>
<path d="M500.96 248.10H514.63V262.08H500.96Z" fill="#352a87"/>
<path d="M528.29 248.10H542.65V261.38H541.95V262.08H528.29Z" fill="#363093"/>
<path d="M541.95 248.10H555.62V261.38H541.95Z" fill="#3637a0"/>
<path d="M569.28 248.10H583.65V261.38H569.28Z" fill="#0f5cdd"/>
<path d="M582.95 248.10H597.31V261.38H582.95Z" fill="#0d75dc"/>
<path d="M596.61 248.10H610.97V261.38H596.61Z" fill="#079ccf"/>
<path d="M610.27 248.10H624.64V261.38H610.27Z" fill="#65be86"/>
<path d="M623.94 248.10H637.60V262.08H623.94Z" fill="#f5de21"/>
<path d="M500.96 261.38H515.33V275.36H500.96Z" fill="#352a87"/>
<path d="M514.63 261.38H528.99V274.66H528.29V275.36H514.63Z" fill="#352a87"/>
<path d="M528.29 261.38H541.95V274.66H528.29Z" fill="#363093"/>
<path d="M623.94 261.38H637.60V274.66H623.94Z" fill="#f5eb18"/>
<path d="M487.30 274.66H501.66V288.64H487.30Z" fill="#352a87"/>
<path d="M500.96 274.66H515.33V288.64H500.96Z" fill="#352a87"/>
<path d="M514.63 274.66H528.29V288.64H514.63Z" fill="#352a87"/>
<path d="M487.30 287.94H501.66V301.92H487.30Z" fill="#352a87"/>
<path d="M500.96 287.94H515.33V301.22H514.63V301.92H500.96Z" fill="#352a87"/>
<path d="M514.63 287.94H528.29V301.22H514.63Z" fill="#352a87"/>
<path d="M487.30 301.22H501.66V314.50H500.96V315.20H487.30Z" fill="#352a87"/>
<path d="M500.96 301.22H514.63V314.50H500.96Z" fill="#352a87"/>
<path d="M487.30 314.50H500.96V327.79H487.30Z" fill="#352a87"/>
<path d="M487.40 208.25H637.70V354.35" fill="none" stroke="#606060" stroke-width="0.55"/>
<path d="M487.40 354.35V207.75" fill="none" stroke="#707070" stroke-width="0.8"/>
<path d="M487.10 354.35H638.00" fill="none" stroke="#4d4d4d" stroke-width="0.85"/>
<line x1="494.13" y1="354.35" x2="494.13" y2="357.65" stroke="#333" stroke-width="0.8"/>
<text x="494.33" y="368.65" font-size="7.8" letter-spacing="-0.2" style="stroke-width:0.05px" text-anchor="middle">10<tspan font-size="5.30" dy="-3.5">−2</tspan><tspan dy="3.5"></tspan></text>
<line x1="562.45" y1="354.35" x2="562.45" y2="357.65" stroke="#333" stroke-width="0.8"/>
<text x="562.55" y="368.65" font-size="7.8" letter-spacing="-0.2" style="stroke-width:0.05px" text-anchor="middle">10<tspan font-size="5.30" dy="-3.5">−1</tspan><tspan dy="3.5"></tspan></text>
<line x1="630.77" y1="354.35" x2="630.77" y2="357.65" stroke="#333" stroke-width="0.8"/>
<text x="630.47" y="368.65" font-size="7.8" letter-spacing="-0.2" style="stroke-width:0.05px" text-anchor="middle">10<tspan font-size="5.30" dy="-2.7">0</tspan><tspan dy="2.7"></tspan></text>
<line x1="484.50" y1="214.49" x2="487.40" y2="214.49" stroke="#666" stroke-width="0.7"/>
<text x="481.20" y="216.89" font-size="7.8" letter-spacing="-0.2" style="stroke-width:0.05px" text-anchor="end">10<tspan font-size="5.30" dy="-2.7">0</tspan><tspan dy="2.7"></tspan></text>
<line x1="484.50" y1="281.30" x2="487.40" y2="281.30" stroke="#666" stroke-width="0.7"/>
<text x="481.90" y="284.10" font-size="7.8" letter-spacing="-0.2" style="stroke-width:0.05px" text-anchor="end">10<tspan font-size="5.30" dy="-3.5">−1</tspan><tspan dy="3.5"></tspan></text>
<line x1="484.50" y1="347.81" x2="487.40" y2="347.81" stroke="#666" stroke-width="0.7"/>
<text x="481.40" y="350.11" font-size="7.8" letter-spacing="-0.2" style="stroke-width:0.05px" text-anchor="end">10<tspan font-size="5.30" dy="-3.5">−2</tspan><tspan dy="3.5"></tspan></text>
<text x="519.40" y="382.95" font-size="8.3" text-anchor="start"><tspan letter-spacing="0.55">Atmospheric</tspan><tspan letter-spacing="0.1"> O</tspan><tspan font-size="5.15" dy="2.3">2</tspan><tspan dy="-2.3"><tspan letter-spacing="0" dx="-0.5"> (PAL)</tspan></tspan></text>
<text transform="translate(459.30,281.10) rotate(-90)" font-size="8.3" letter-spacing="0.14" text-anchor="middle">Marine PO<tspan font-size="5.48" dy="2.3">4</tspan><tspan dy="-2.3"> (POL)</tspan></text>
<text transform="translate(451.3,209.6) scale(1.1,1)" font-size="11.6" font-weight="bold" style="fill:#000;stroke:#000;stroke-width:0.3px">f</text>
<rect x="640.8" y="256.0" width="3.5" height="61.70" fill="url(#par)"/>
<path d="M640.8 268.5h0.9M644.3 268.5h-0.9" stroke="#ffffff" stroke-opacity="0.55" stroke-width="0.5" fill="none"/>
<path d="M640.8 280.7h0.9M644.3 280.7h-0.9" stroke="#ffffff" stroke-opacity="0.55" stroke-width="0.5" fill="none"/>
<path d="M640.8 293.1h0.9M644.3 293.1h-0.9" stroke="#ffffff" stroke-opacity="0.55" stroke-width="0.5" fill="none"/>
<path d="M640.8 305.3h0.9M644.3 305.3h-0.9" stroke="#ffffff" stroke-opacity="0.55" stroke-width="0.5" fill="none"/>
<text x="646.4" y="258.41" font-size="6.8" style="stroke:none;fill:#222">250</text>
<text x="646.4" y="270.91" font-size="6.8" style="stroke:none;fill:#222">200</text>
<text x="646.4" y="283.11" font-size="6.8" style="stroke:none;fill:#222">150</text>
<text x="646.4" y="295.51" font-size="6.8" style="stroke:none;fill:#222">100</text>
<text x="646.4" y="307.71" font-size="6.8" style="stroke:none;fill:#222">50</text>
<text x="646.4" y="319.71" font-size="6.8" style="stroke:none;fill:#222">0</text>
<text x="661.8" y="222.9" font-size="7.1" letter-spacing="0.2" text-anchor="middle">Dissolved O<tspan font-size="4.40" dy="1.7">2</tspan><tspan dy="-1.7"></tspan></text>
<text x="661.8" y="231.2" font-size="7.1" letter-spacing="0.2" text-anchor="middle">in shelf</text>
<text x="661.8" y="239.6" font-size="7.1" letter-spacing="0.2" text-anchor="middle">environments</text>
<text x="661.8" y="248.0" font-size="7.1" letter-spacing="0.2" text-anchor="middle">(μmol kg<tspan font-size="4.26" dy="-3.7">−1</tspan><tspan dy="3.7">)</tspan></text>
</g>
</svg></body></html>
